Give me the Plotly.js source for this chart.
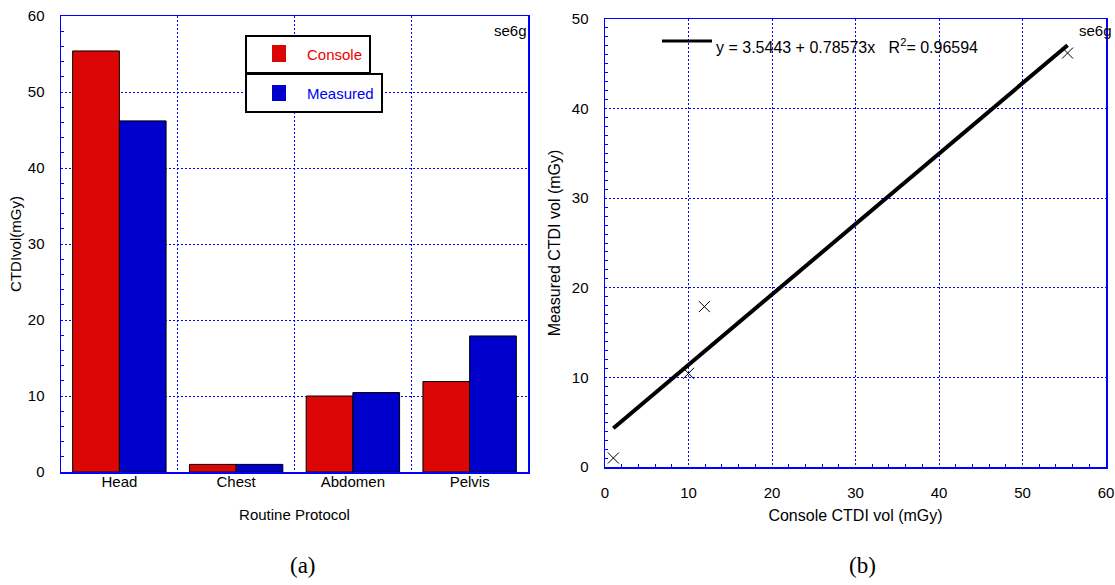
<!DOCTYPE html>
<html>
<head>
<meta charset="utf-8">
<script src="https://cdn.plot.ly/plotly-3.0.1.min.js"></script>
<style>html,body{margin:0;padding:0;background:#fff;}#chart{width:1115px;height:585px;}</style>
</head>
<body>
<div id="chart"></div>
<script>
// ---- data ----
const protocols = ["Head", "Chest", "Abdomen", "Pelvis"];
const consoleCTDI = [55.4, 1.0, 10.0, 11.9];
const measuredCTDI = [46.2, 1.0, 10.45, 17.9];
const fitIntercept = 3.5443;
const fitSlope = 0.78573;
const fitR2 = 0.96594;
const yTicksA = [0, 10, 20, 30, 40, 50, 60];
const xTicksB = [0, 10, 20, 30, 40, 50, 60];
const yTicksB = [0, 10, 20, 30, 40, 50];

// ---- layout helpers (pixel -> paper) ----
const W = 1115, H = 585;
const px = x => x / W;
const py = y => 1 - y / H;

const BLUE = "#0000ff";
const RED = "#dd0606";
const BARBLUE = "#0000cc";
const FONT = "Arial, 'Liberation Sans', sans-serif";

const xmin = Math.min(...consoleCTDI), xmax = Math.max(...consoleCTDI);
const fitX = [xmin, xmax];
const fitY = fitX.map(v => fitIntercept + fitSlope * v);

const traces = [
  {type: "bar", x: protocols, y: consoleCTDI, name: "Console", xaxis: "x", yaxis: "y",
   marker: {color: RED, line: {color: "#000", width: 1}}, showlegend: false},
  {type: "bar", x: protocols, y: measuredCTDI, name: "Measured", xaxis: "x", yaxis: "y",
   marker: {color: BARBLUE, line: {color: "#000", width: 1}}, showlegend: false},
  {type: "scatter", mode: "lines", x: fitX, y: fitY, xaxis: "x2", yaxis: "y2",
   line: {color: "#000", width: 4}, showlegend: false, name: "fit"},
  {type: "scatter", mode: "markers", x: consoleCTDI, y: measuredCTDI, xaxis: "x2", yaxis: "y2",
   marker: {symbol: "x-thin-open", size: 11, color: "#000", line: {color: "#000", width: 1}},
   showlegend: false, name: "data"}
];

const gridCommon = {
  showgrid: true, gridcolor: BLUE, gridwidth: 1, griddash: "2px,2px",
  showline: true, linecolor: BLUE, linewidth: 1.5, mirror: true,
  zeroline: false, ticks: "", tickfont: {family: FONT, size: 15, color: "#000"},
  automargin: false
};

const layout = {
  width: W, height: H,
  margin: {l: 0, r: 0, t: 0, b: 0},
  paper_bgcolor: "#fff", plot_bgcolor: "#fff",
  font: {family: FONT, color: "#000"},
  barmode: "group", bargap: 0.2, bargroupgap: 0,
  xaxis: Object.assign({}, gridCommon, {
    domain: [px(61), px(528)], anchor: "y",
    type: "category", tickson: "boundaries", range: [-0.5, 3.5],
    ticklabelstandoff: -5,
    title: {text: "Routine Protocol", font: {family: FONT, size: 15}, standoff: 21}
  }),
  yaxis: Object.assign({}, gridCommon, {
    domain: [py(472), py(16)], anchor: "x",
    range: [yTicksA[0], yTicksA[yTicksA.length - 1]],
    tickmode: "linear", tick0: yTicksA[0], dtick: yTicksA[1] - yTicksA[0], ticklabelstandoff: 12,
    minor: {dtick: 2, ticks: "inside", ticklen: 3, tickcolor: BLUE, tickwidth: 1, showgrid: false},
    title: {text: "CTDIvol(mGy)", font: {family: FONT, size: 15}, standoff: 2}
  }),
  xaxis2: Object.assign({}, gridCommon, {
    domain: [px(605), px(1106)], anchor: "y2",
    range: [xTicksB[0], xTicksB[xTicksB.length - 1]],
    tickmode: "linear", tick0: xTicksB[0], dtick: xTicksB[1] - xTicksB[0], ticklabelstandoff: 11,
    minor: {dtick: 2, ticks: "inside", ticklen: 3, tickcolor: BLUE, tickwidth: 1, showgrid: false},
    title: {text: "Console CTDI vol (mGy)", font: {family: FONT, size: 16}, standoff: 10}
  }),
  yaxis2: Object.assign({}, gridCommon, {
    domain: [py(467), py(19)], anchor: "x2",
    range: [yTicksB[0], yTicksB[yTicksB.length - 1]],
    tickmode: "linear", tick0: yTicksB[0], dtick: yTicksB[1] - yTicksB[0], ticklabelstandoff: 12,
    minor: {dtick: 1, ticks: "inside", ticklen: 3, tickcolor: BLUE, tickwidth: 1, showgrid: false},
    title: {text: "Measured CTDI vol (mGy)", font: {family: FONT, size: 16}, standoff: 7}
  }),
  shapes: [
    {type: "rect", xref: "paper", yref: "paper", x0: px(246), x1: px(370), y0: py(73), y1: py(36),
     line: {color: "#000", width: 2}, fillcolor: "#fff"},
    {type: "rect", xref: "paper", yref: "paper", x0: px(246), x1: px(382), y0: py(112), y1: py(74),
     line: {color: "#000", width: 2}, fillcolor: "#fff"},
    {type: "rect", xref: "paper", yref: "paper", x0: px(272), x1: px(286), y0: py(62), y1: py(45),
     line: {width: 0}, fillcolor: RED},
    {type: "rect", xref: "paper", yref: "paper", x0: px(272), x1: px(286), y0: py(101), y1: py(85),
     line: {width: 0}, fillcolor: BARBLUE},
    {type: "line", xref: "paper", yref: "paper", x0: px(662), x1: px(712), y0: py(41), y1: py(41),
     line: {color: "#000", width: 3}}
  ],
  annotations: [
    {xref: "paper", yref: "paper", x: px(305), y: py(54), text: "Console", showarrow: false,
     xanchor: "left", yanchor: "middle", font: {family: FONT, size: 15, color: "#ee0000"}},
    {xref: "paper", yref: "paper", x: px(305), y: py(94), text: "Measured", showarrow: false,
     xanchor: "left", yanchor: "middle", font: {family: FONT, size: 15, color: "#0000ee"}},
    {xref: "paper", yref: "paper", x: px(529), y: py(30), text: "se6g", showarrow: false,
     xanchor: "right", yanchor: "middle", font: {family: FONT, size: 15}},
    {xref: "paper", yref: "paper", x: px(1114), y: py(30), text: "se6g", showarrow: false,
     xanchor: "right", yanchor: "middle", font: {family: FONT, size: 15}},
    {xref: "paper", yref: "paper", x: px(714), y: py(46), showarrow: false,
     text: "y = " + fitIntercept + " + " + fitSlope + "x   R<sup>2</sup>= " + fitR2,
     xanchor: "left", yanchor: "middle", font: {family: FONT, size: 16}},
    {xref: "paper", yref: "paper", x: px(303), y: py(565), text: "(a)", showarrow: false,
     xanchor: "center", yanchor: "middle", font: {family: "'Liberation Serif', 'Times New Roman', serif", size: 23}},
    {xref: "paper", yref: "paper", x: px(863), y: py(565), text: "(b)", showarrow: false,
     xanchor: "center", yanchor: "middle", font: {family: "'Liberation Serif', 'Times New Roman', serif", size: 23}}
  ]
};

Plotly.newPlot("chart", traces, layout, {displayModeBar: false, staticPlot: true});
</script>
</body>
</html>
